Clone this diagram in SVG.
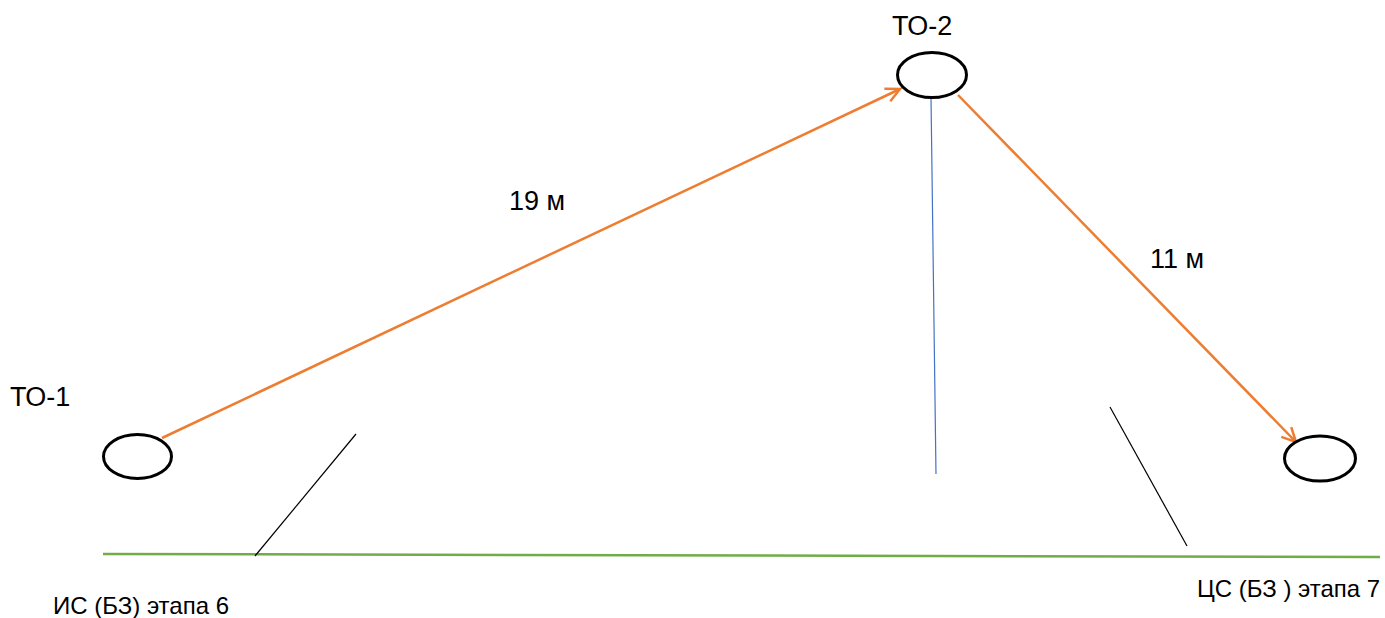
<svg xmlns="http://www.w3.org/2000/svg" width="1385" height="618" viewBox="0 0 1385 618">
<style>
.node{fill:#fff;stroke:#000;stroke-width:3}
.lbl{font-family:"Liberation Sans",Arial,sans-serif;fill:#000}
.big{font-size:27px}
.small{font-size:24px}
.arr{stroke:#ED7D31;stroke-width:2.5;fill:none}
</style>
<defs>
<marker id="ah" markerWidth="20" markerHeight="20" refX="18" refY="10" orient="auto" markerUnits="userSpaceOnUse">
<path d="M4,3 L18,10 L4,17" fill="none" stroke="#ED7D31" stroke-width="2.5"/>
</marker>
</defs>
<rect width="1385" height="618" fill="#fff"/>
<g id="lines">
<line x1="103" y1="554" x2="1380" y2="557" stroke="#70AD47" stroke-width="2.5"/>
<line x1="356" y1="434" x2="255" y2="556" stroke="#000" stroke-width="1.2"/>
<line x1="1110" y1="407" x2="1187" y2="546" stroke="#000" stroke-width="1.2"/>
<line x1="931" y1="97" x2="936" y2="474" stroke="#4472C4" stroke-width="1.2"/>
</g>
<g id="connectors">
<line class="arr" x1="162" y1="438" x2="900" y2="89" marker-end="url(#ah)"/>
<line class="arr" x1="958" y1="95" x2="1296" y2="442" marker-end="url(#ah)"/>
<text class="lbl big" x="509" y="210">19 м</text>
<text class="lbl big" x="1150" y="268">11 м</text>
</g>
<g id="to2">
<ellipse class="node" cx="932" cy="75" rx="34.5" ry="22.5"/>
<text class="lbl big" x="892" y="35">ТО-2</text>
</g>
<g id="to1">
<ellipse class="node" cx="137.5" cy="456.5" rx="34" ry="22"/>
<text class="lbl big" x="10" y="406">ТО-1</text>
</g>
<g id="to3">
<ellipse class="node" cx="1320" cy="458.5" rx="35.5" ry="22.5"/>
</g>
<g id="labels">
<text class="lbl small" x="53" y="614">ИС (БЗ) этапа 6</text>
<text class="lbl small" x="1197" y="597">ЦС (БЗ ) этапа 7</text>
</g>
</svg>
